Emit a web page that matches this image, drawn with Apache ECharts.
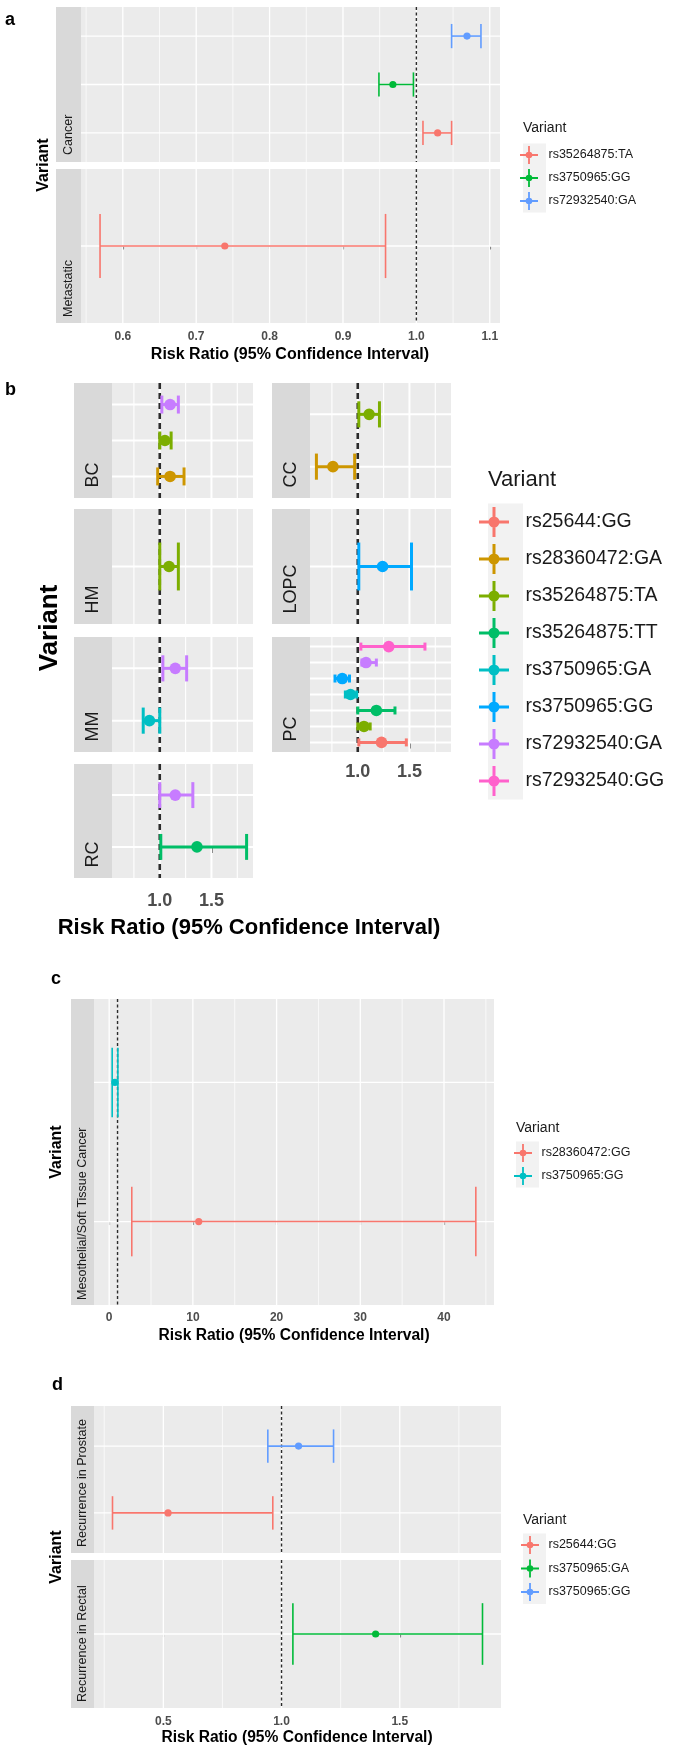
<!DOCTYPE html>
<html>
<head>
<meta charset="utf-8">
<script src="https://cdn.jsdelivr.net/npm/echarts@6/dist/echarts.min.js"></script>
<style>
    html, body {margin:0;padding:0;background:#ffffff;}
    #forest {width:685px;height:1749px;}
</style>
</head>
<body>
<div id="forest"></div>
<script>
// rows: [variant, risk ratio, lower 95% CI, upper 95% CI], listed bottom to top
var aCancer = [['rs35264875:TA', 1.029, 1.009, 1.048], ['rs3750965:GG', 0.968, 0.949, 0.996], ['rs72932540:GA', 1.069, 1.048, 1.088]];
var aMetastatic = [['rs35264875:TA', 0.739, 0.569, 0.958]];
var aVariants = ['rs35264875:TA', 'rs3750965:GG', 'rs72932540:GA'];
var aTicks = [0.6, 0.7, 0.8, 0.9, 1.0, 1.1];
var aMinor = [0.55, 0.65, 0.75, 0.85, 0.95, 1.05];

var bBC = [['rs28360472:GA', 1.10, 0.98, 1.235], ['rs35264875:TA', 1.05, 1.00, 1.11], ['rs72932540:GA', 1.10, 1.02, 1.18]];
var bCC = [['rs28360472:GA', 0.76, 0.60, 0.97], ['rs35264875:TA', 1.11, 1.01, 1.21]];
var bHM = [['rs35264875:TA', 1.09, 1.00, 1.18]];
var bLOPC = [['rs3750965:GG', 1.24, 1.01, 1.52]];
var bMM = [['rs3750965:GA', 0.90, 0.84, 1.00], ['rs72932540:GA', 1.15, 1.03, 1.26]];
var bPC = [['rs25644:GG', 1.23, 1.01, 1.47], ['rs35264875:TA', 1.06, 1.00, 1.12], ['rs35264875:TT', 1.18, 1.00, 1.36],
           ['rs3750965:GA', 0.93, 0.88, 0.99], ['rs3750965:GG', 0.85, 0.78, 0.92], ['rs72932540:GA', 1.08, 1.04, 1.18],
           ['rs72932540:GG', 1.30, 1.03, 1.65]];
var bRC = [['rs35264875:TT', 1.36, 1.01, 1.84], ['rs72932540:GA', 1.15, 1.00, 1.32]];
var bVariants = ['rs25644:GG', 'rs28360472:GA', 'rs35264875:TA', 'rs35264875:TT', 'rs3750965:GA', 'rs3750965:GG', 'rs72932540:GA', 'rs72932540:GG'];
var bTicks = [1.0, 1.5];
var bMinor = [0.75, 1.25, 1.75];

var cMeso = [['rs28360472:GG', 10.7, 2.7, 43.8], ['rs3750965:GG', 0.68, 0.36, 1.04]];
var cVariants = ['rs28360472:GG', 'rs3750965:GG'];
var cTicks = [0, 10, 20, 30, 40];
var cMinor = [5, 15, 25, 35, 45];

var dProstate = [['rs25644:GG', 0.52, 0.285, 0.963], ['rs3750965:GG', 1.072, 0.942, 1.22]];
var dRectal = [['rs3750965:GA', 1.398, 1.048, 1.85]];
var dVariants = ['rs25644:GG', 'rs3750965:GA', 'rs3750965:GG'];
var dTicks = [0.5, 1.0, 1.5];
var dMinor = [0.25, 0.75, 1.25, 1.75];

var hue2 = ['#F8766D', '#00BFC4'];
var hue3 = ['#F8766D', '#00BA38', '#619CFF'];
var hue8 = ['#F8766D', '#CD9600', '#7CAE00', '#00BE67', '#00BFC4', '#00A9FF', '#C77CFF', '#FF61CC'];

var FONT = '"Liberation Sans", Arial, Helvetica, sans-serif';
var CROSS = 'path://M0,13.5H30V16.5H0Z M13.5,0H16.5V30H13.5Z M20.5,15A5.5,5.5,0,1,1,9.5,15A5.5,5.5,0,1,1,20.5,15Z';
var TITLE = 'Risk Ratio (95% Confidence Interval)';

var small = {lw: 1.6, r: 3.6, major: 1.3, minorW: 0.7, dashW: 1.4, dash: [3, 2.5], tickLen: 3.5, tickW: 1.1, label: 12, strip: 12.5};
var big = {lw: 3, r: 5.8, major: 2, minorW: 1.1, dashW: 2.6, dash: [6, 4], tickLen: 6, tickW: 2, label: 18, strip: 18};

var panels = [
    {key: 'a', variants: aVariants, colors: hue3, ticks: aTicks, minor: aMinor, digits: 1, st: small,
        letter: [5, 20], ytitle: [44, 165, 16], xtitle: [290, 355, 16],
        legend: {left: 520, top: 146, w: 29, h: 18, gap: 5, font: 12.5, title: [523, 128, 14], bg: [523, 23, 143.5, 69]},
        facets: [
            {name: 'Cancer', rows: aCancer, box: [81, 7, 419, 155], strip: 25, pad: 7, axis: false},
            {name: 'Metastatic', rows: aMetastatic, box: [81, 169, 419, 154], strip: 25, pad: 6, axis: true, margin: 8}
        ]},
    {key: 'b', variants: bVariants, colors: hue8, ticks: bTicks, minor: bMinor, digits: 1, st: big,
        letter: [5, 390], ytitle: [50, 628, 26], xtitle: [249, 928, 22],
        legend: {left: 479, top: 507, w: 53, h: 30, gap: 7, font: 19.5, title: [488, 480, 22], bg: [488, 35, 503.5, 296]},
        facets: [
            {name: 'BC', rows: bBC, box: [112, 383, 141, 115], strip: 38, pad: 10.5, axis: false},
            {name: 'CC', rows: bCC, box: [310, 383, 141, 115], strip: 38, pad: 10.5, axis: false},
            {name: 'HM', rows: bHM, box: [112, 509, 141, 115], strip: 38, pad: 10.5, axis: false},
            {name: 'LOPC', rows: bLOPC, box: [310, 509, 141, 115], strip: 38, pad: 10.5, axis: false},
            {name: 'MM', rows: bMM, box: [112, 637, 141, 115], strip: 38, pad: 10.5, axis: false},
            {name: 'PC', rows: bPC, box: [310, 637, 141, 115], strip: 38, pad: 10.5, axis: true, margin: 11},
            {name: 'RC', rows: bRC, box: [112, 764, 141, 114], strip: 38, pad: 10.5, axis: true, margin: 14}
        ]},
    {key: 'c', variants: cVariants, colors: hue2, ticks: cTicks, minor: cMinor, digits: 0, st: small,
        letter: [51, 979], ytitle: [57, 1152, 16], xtitle: [294, 1336, 15.6],
        legend: {left: 514, top: 1144, w: 27, h: 18, gap: 5, font: 12.5, title: [516, 1128, 14], bg: [516, 23, 1141.5, 46]},
        facets: [
            {name: 'Mesothelial/Soft Tissue Cancer', rows: cMeso, box: [94, 999, 400, 306], strip: 23, pad: 5, axis: true, margin: 7}
        ]},
    {key: 'd', variants: dVariants, colors: hue3, ticks: dTicks, minor: dMinor, digits: 1, st: small,
        letter: [52, 1385], ytitle: [57, 1557, 16], xtitle: [297, 1738, 15.6],
        legend: {left: 521, top: 1536, w: 27, h: 18, gap: 5.5, font: 12.5, title: [523, 1520, 14], bg: [523, 23, 1533.5, 70.5]},
        facets: [
            {name: 'Recurrence in Prostate', rows: dProstate, box: [94, 1406, 407, 147], strip: 23, pad: 6, axis: false},
            {name: 'Recurrence in Rectal', rows: dRectal, box: [94, 1560, 407, 148], strip: 23, pad: 6, axis: true, margin: 8}
        ]}
];

// x range like ggplot: data range plus 5% on each side
function extent(facets) {
    var lo = Infinity, hi = -Infinity;
    facets.forEach(function (f) {
        f.rows.forEach(function (r) { lo = Math.min(lo, r[2]); hi = Math.max(hi, r[3]); });
    });
    var pad = (hi - lo) * 0.05;
    return [lo - pad, hi + pad];
}

function gridRenderer(p, f, ext) {
    return function (params, api) {
        var cs = params.coordSys, st = p.st, kids = [];
        function vline(v, w, color, dash) {
            if (v < ext[0] || v > ext[1]) return;
            var x = api.coord([v, 0])[0];
            kids.push({type: 'line', shape: {x1: x, y1: cs.y, x2: x, y2: cs.y + cs.height},
                style: {stroke: color, lineWidth: w, lineDash: dash || null}});
        }
        p.minor.forEach(function (v) { vline(v, st.minorW, '#FFFFFF'); });
        p.ticks.forEach(function (v) { vline(v, st.major, '#FFFFFF'); });
        f.rows.forEach(function (r, i) {
            var y = api.coord([ext[0], i])[1];
            kids.push({type: 'line', shape: {x1: cs.x, y1: y, x2: cs.x + cs.width, y2: y},
                style: {stroke: '#FFFFFF', lineWidth: st.major}});
        });
        vline(1, st.dashW, '#2B2B2B', st.dash);
        return {type: 'group', children: kids};
    };
}

function barRenderer(st, color) {
    return function (params, api) {
        var row = api.value(0);
        var a = api.coord([api.value(1), row]);
        var m = api.coord([api.value(2), row]);
        var b = api.coord([api.value(3), row]);
        var h = api.size([0, 0.25])[1];
        var ls = {stroke: color, lineWidth: st.lw};
        return {type: 'group', children: [
            {type: 'line', shape: {x1: a[0], y1: a[1], x2: b[0], y2: b[1]}, style: ls},
            {type: 'line', shape: {x1: a[0], y1: a[1] - h, x2: a[0], y2: a[1] + h}, style: ls},
            {type: 'line', shape: {x1: b[0], y1: b[1] - h, x2: b[0], y2: b[1] + h}, style: ls},
            {type: 'circle', shape: {cx: m[0], cy: m[1], r: st.r}, style: {fill: color}}
        ]};
    };
}

function txt(x, y, text, size, weight, color, align, rot) {
    return {type: 'text', x: x, y: y, rotation: rot || 0, z: 10,
        style: {text: text, fontSize: size, fontWeight: weight, fontFamily: FONT, fill: color,
            align: align, textAlign: align, verticalAlign: 'middle', textVerticalAlign: 'middle'}};
}

var grids = [], xAxes = [], yAxes = [], series = [], graphics = [], legends = [];

panels.forEach(function (p) {
    var ext = extent(p.facets);
    var fmt = function (v) { return Number(v).toFixed(p.digits); };

    p.facets.forEach(function (f) {
        var gi = grids.length, b = f.box;
        grids.push({left: b[0], top: b[1], width: b[2], height: b[3], show: true,
            backgroundColor: '#EBEBEB', borderWidth: 0});
        xAxes.push({type: 'value', gridIndex: gi, min: ext[0], max: ext[1],
            axisLine: {show: false}, splitLine: {show: false},
            axisTick: {show: f.axis, customValues: p.ticks, length: p.st.tickLen,
                lineStyle: {color: '#333333', width: p.st.tickW}},
            axisLabel: {show: f.axis, customValues: p.ticks, formatter: fmt, margin: f.margin || 8,
                color: '#4D4D4D', fontWeight: 'bold', fontSize: p.st.label, fontFamily: FONT}});
        yAxes.push({type: 'value', gridIndex: gi, min: -0.6, max: f.rows.length - 0.4, show: false});

        series.push({type: 'custom', name: 'grid-' + gi, xAxisIndex: gi, yAxisIndex: gi, z: 1, silent: true,
            data: [[0, 0]], renderItem: gridRenderer(p, f, ext)});

        f.rows.forEach(function (r, i) {
            var color = p.colors[p.variants.indexOf(r[0])];
            series.push({type: 'custom', name: p.key + '|' + r[0], xAxisIndex: gi, yAxisIndex: gi, z: 3,
                itemStyle: {color: color}, encode: {x: [1, 2, 3], y: 0},
                data: [[i, r[2], r[1], r[3]]], renderItem: barRenderer(p.st, color)});
        });

        graphics.push({type: 'rect', shape: {x: b[0] - f.strip, y: b[1], width: f.strip, height: b[3]},
            style: {fill: '#D9D9D9'}});
        graphics.push(txt(b[0] - f.strip / 2, b[1] + b[3] - f.pad, f.name, p.st.strip, 'normal', '#1A1A1A', 'left', Math.PI / 2));
    });

    graphics.push(txt(p.letter[0], p.letter[1], p.key, 18, 'bold', '#000000', 'left'));
    graphics.push(txt(p.ytitle[0], p.ytitle[1], 'Variant', p.ytitle[2], 'bold', '#000000', 'center', Math.PI / 2));
    graphics.push(txt(p.xtitle[0], p.xtitle[1], TITLE, p.xtitle[2], 'bold', '#000000', 'center'));

    var lg = p.legend;
    graphics.push(txt(lg.title[0], lg.title[1], 'Variant', lg.title[2], 'normal', '#1A1A1A', 'left'));
    graphics.push({type: 'rect', shape: {x: lg.bg[0], y: lg.bg[2], width: lg.bg[1], height: lg.bg[3]},
        style: {fill: '#F2F2F2'}});
    legends.push({orient: 'vertical', left: lg.left, top: lg.top, padding: 0,
        itemWidth: lg.w, itemHeight: lg.h, itemGap: lg.gap, selectedMode: false, icon: CROSS,
        data: p.variants.map(function (v, i) {
            return {name: p.key + '|' + v, icon: CROSS, itemStyle: {color: p.colors[i], borderWidth: 0}};
        }),
        formatter: function (n) { return n.split('|')[1]; },
        textStyle: {fontSize: lg.font, color: '#1A1A1A', fontFamily: FONT}});
});

var myChart = echarts.init(document.getElementById('forest'), null, {renderer: 'canvas'});
myChart.setOption({
    animation: false,
    backgroundColor: '#FFFFFF',
    textStyle: {fontFamily: FONT},
    grid: grids,
    xAxis: xAxes,
    yAxis: yAxes,
    legend: legends,
    graphic: {elements: graphics},
    series: series
});
</script>
</body>
</html>
